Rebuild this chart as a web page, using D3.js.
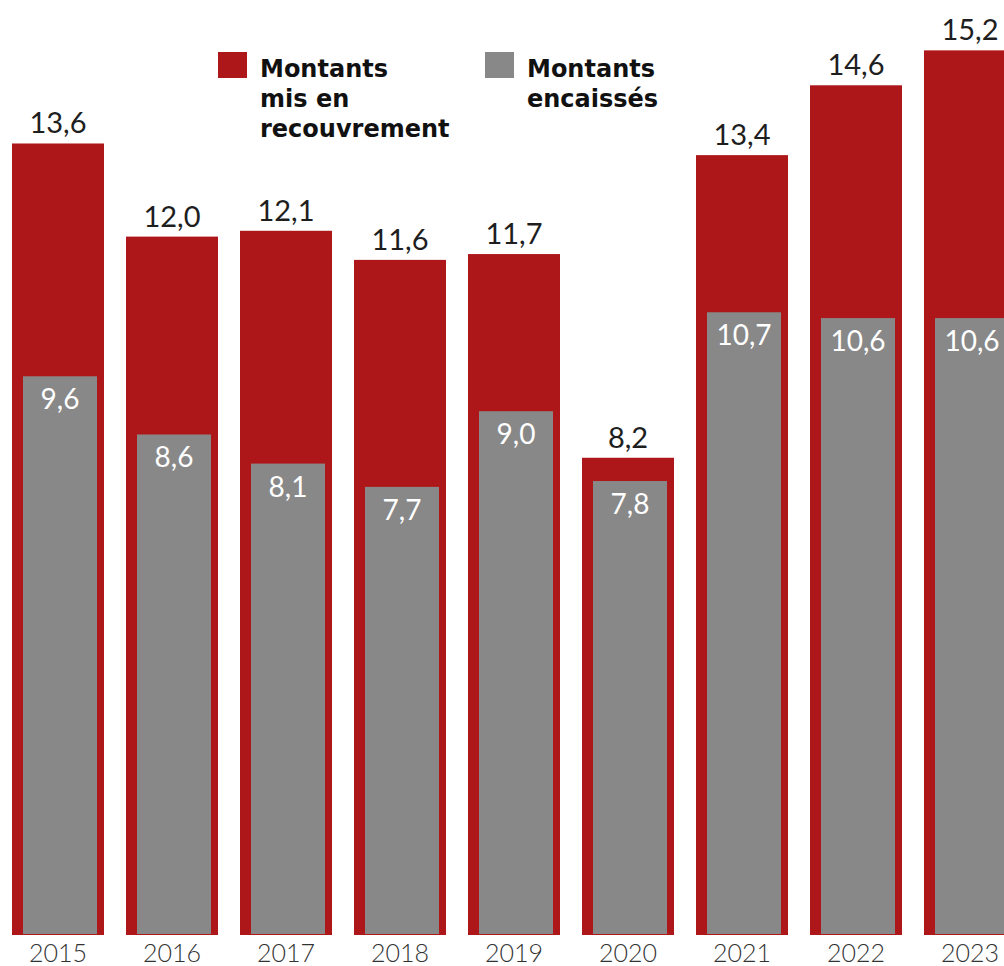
<!DOCTYPE html>
<html>
<head>
<meta charset="utf-8">
<script src="https://cdn.jsdelivr.net/npm/d3@7"></script>
<style>
  html, body { margin: 0; padding: 0; background: #fff; }
  svg { display: block; }
</style>
</head>
<body>
<div class="chart"></div>
<script>
var years = ["2015", "2016", "2017", "2018", "2019", "2020", "2021", "2022", "2023"];
var recouvrement = [13.6, 12.0, 12.1, 11.6, 11.7, 8.2, 13.4, 14.6, 15.2];
var encaisse = [9.6, 8.6, 8.1, 7.7, 9.0, 7.8, 10.7, 10.6, 10.6];
var legendLabels = [["Montants", "mis en", "recouvrement"], ["Montants", "encaissés"]];

var width = 1004, height = 966;
var red = "#ae1719", grey = "#888888";
var numFont = "Lato, 'Noto Sans', sans-serif";

var fmt = function(v) { return d3.format(".1f")(v).replace(".", ","); };

var svg = d3.select("div.chart").append("svg")
    .attr("width", width)
    .attr("height", height);

var x = d3.scaleBand()
    .domain(years)
    .range([1, 1027])
    .paddingInner(22 / 114)
    .paddingOuter(11 / 114);

var y = d3.scaleLinear()
    .domain([0, 15.2])
    .range([935, 935 - 15.2 * 58.2]);

var data = years.map(function(yr, i) {
  return {year: yr, total: recouvrement[i], paid: encaisse[i]};
});

var bars = svg.append("g").selectAll("g")
    .data(data)
    .enter().append("g");

// red outer bar
bars.append("rect")
    .attr("x", function(d) { return x(d.year); })
    .attr("y", function(d) { return y(d.total); })
    .attr("width", x.bandwidth())
    .attr("height", function(d) { return y(0) - y(d.total); })
    .attr("fill", red);

// grey inner bar
bars.append("rect")
    .attr("x", function(d) { return x(d.year) + 11; })
    .attr("y", function(d) { return y(d.paid); })
    .attr("width", x.bandwidth() - 18)
    .attr("height", function(d) { return y(0) - y(d.paid) - 1; })
    .attr("fill", grey);

// total labels
bars.append("text")
    .attr("x", function(d) { return x(d.year) + x.bandwidth() / 2; })
    .attr("y", function(d) { return y(d.total) - 10; })
    .attr("text-anchor", "middle")
    .attr("font-family", numFont)
    .attr("font-weight", 400)
    .attr("font-size", 29)
    .attr("fill", "#1e1e1e")
    .text(function(d) { return fmt(d.total); });

// paid labels
bars.append("text")
    .attr("x", function(d) { return x(d.year) + 11 + (x.bandwidth() - 18) / 2; })
    .attr("y", function(d) { return y(d.paid) + 33; })
    .attr("text-anchor", "middle")
    .attr("font-family", numFont)
    .attr("font-weight", 400)
    .attr("font-size", 28)
    .attr("fill", "#fff")
    .text(function(d) { return fmt(d.paid); });

// year axis labels
svg.append("g").selectAll("text")
    .data(years)
    .enter().append("text")
    .attr("x", function(d) { return x(d) + x.bandwidth() / 2; })
    .attr("y", 962)
    .attr("text-anchor", "middle")
    .attr("font-family", numFont)
    .attr("font-weight", 300)
    .attr("font-size", 25)
    .attr("fill", "#333")
    .text(function(d) { return d; });

// legend
var legend = svg.append("g").selectAll("g")
    .data(legendLabels)
    .enter().append("g")
    .attr("transform", function(d, i) { return "translate(" + (i === 0 ? 218 : 485) + ",52)"; });

legend.append("rect")
    .attr("width", 29)
    .attr("height", 26)
    .attr("fill", function(d, i) { return i === 0 ? red : grey; });

legend.append("text")
    .attr("font-family", "'DejaVu Sans', sans-serif")
    .attr("font-weight", "bold")
    .attr("font-size", 24)
    .attr("fill", "#111")
    .selectAll("tspan")
    .data(function(d) { return d; })
    .enter().append("tspan")
    .attr("x", 42)
    .attr("y", function(d, i) { return 25 + i * 30; })
    .text(function(d) { return d; });
</script>
</body>
</html>
